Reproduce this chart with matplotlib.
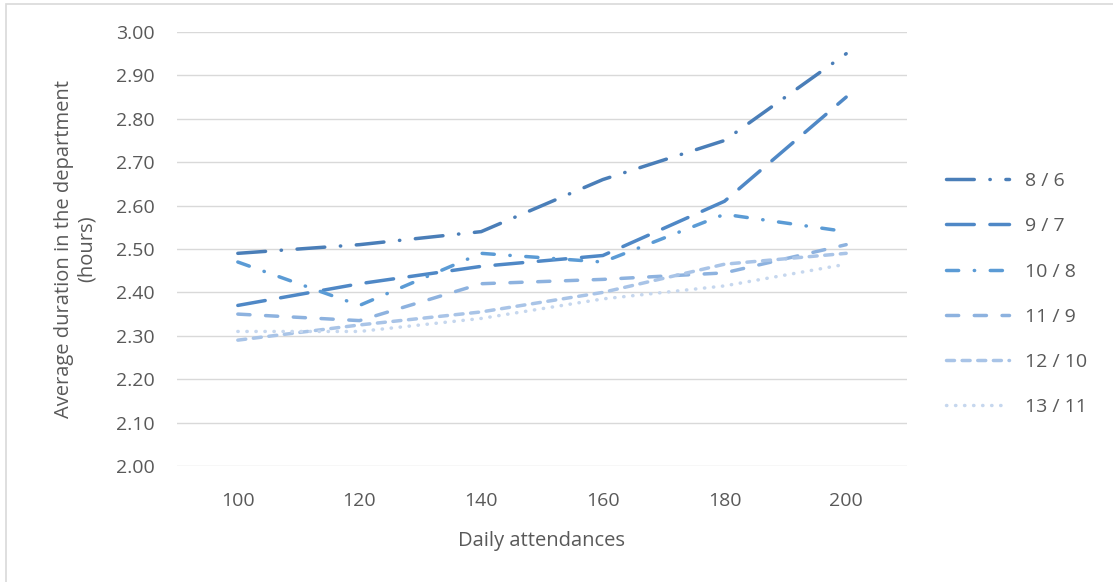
import matplotlib
matplotlib.use('Agg')
import matplotlib.pyplot as plt
from matplotlib.patches import Rectangle

plt.rcParams['font.family'] = ['Open Sans', 'DejaVu Sans']

# 数据
attendances = ['100', '120', '140', '160', '180', '200']
labels = ['8 / 6', '9 / 7', '10 / 8', '11 / 9', '12 / 10', '13 / 11']
s_8_6 = [2.49, 2.51, 2.54, 2.66, 2.75, 2.95]
s_9_7 = [2.37, 2.42, 2.46, 2.485, 2.61, 2.85]
s_10_8 = [2.47, 2.37, 2.49, 2.47, 2.58, 2.54]
s_11_9 = [2.35, 2.335, 2.42, 2.43, 2.445, 2.51]
s_12_10 = [2.29, 2.325, 2.355, 2.40, 2.465, 2.49]
s_13_11 = [2.31, 2.31, 2.34, 2.385, 2.415, 2.465]
series = [s_8_6, s_9_7, s_10_8, s_11_9, s_12_10, s_13_11]

colors = ['#4a7eb8', '#4f88c6', '#5b9bd5', '#8db2df', '#a9c4e7', '#c6d7ee']
dashes = [(8, 4.5, 0.1, 4.5), (8, 4.5), (3.5, 4.5, 0.1, 4.5), (3.5, 4.5), (2.3, 2.2), (0.1, 2.5)]
text_color = '#595959'

fig = plt.figure(figsize=(11.13, 5.82), dpi=100)
ax = fig.add_axes([177 / 1113, 1 - 466 / 582, 730 / 1113, 434 / 582])

# 外框
fig.patches.append(Rectangle((5.5 / 1113, -0.1), 1.2, 1.1 - 3.5 / 582,
                             transform=fig.transFigure, fill=False,
                             edgecolor='#d9d9d9', linewidth=1.2))

x = list(range(len(attendances)))
for ys, lab, c, d in zip(series, labels, colors, dashes):
    ax.plot(x, ys, color=c, linewidth=2.5, dashes=d,
            dash_capstyle='round', solid_capstyle='round', label=lab)

ax.set_xlim(-0.5, 5.5)
ax.set_ylim(2.0, 3.0)
ax.set_yticks([2.0 + 0.1 * i for i in range(11)])
ax.set_yticklabels(['%.2f' % (2.0 + 0.1 * i) for i in range(11)])
ax.set_xticks(x)
ax.set_xticklabels(attendances)
ax.tick_params(length=0, labelsize=14, colors=text_color)
ax.tick_params(axis='y', pad=16)
ax.tick_params(axis='x', pad=19)
for sp in ax.spines.values():
    sp.set_visible(False)
ax.grid(axis='y', color='#d9d9d9', linewidth=1.0)
ax.set_axisbelow(True)

ax.set_xlabel('Daily attendances', fontsize=14.5, color=text_color, labelpad=15)
ax.set_ylabel('Average duration in the department\n(hours)', fontsize=14.5,
              color=text_color, labelpad=14, linespacing=1.15)

leg = ax.legend(loc='center left', bbox_to_anchor=(1.03, 0.396), frameon=False,
                fontsize=14, handlelength=3.2, handletextpad=0.85,
                labelspacing=1.4, labelcolor=text_color)

fig.savefig('out.png', dpi=100)
